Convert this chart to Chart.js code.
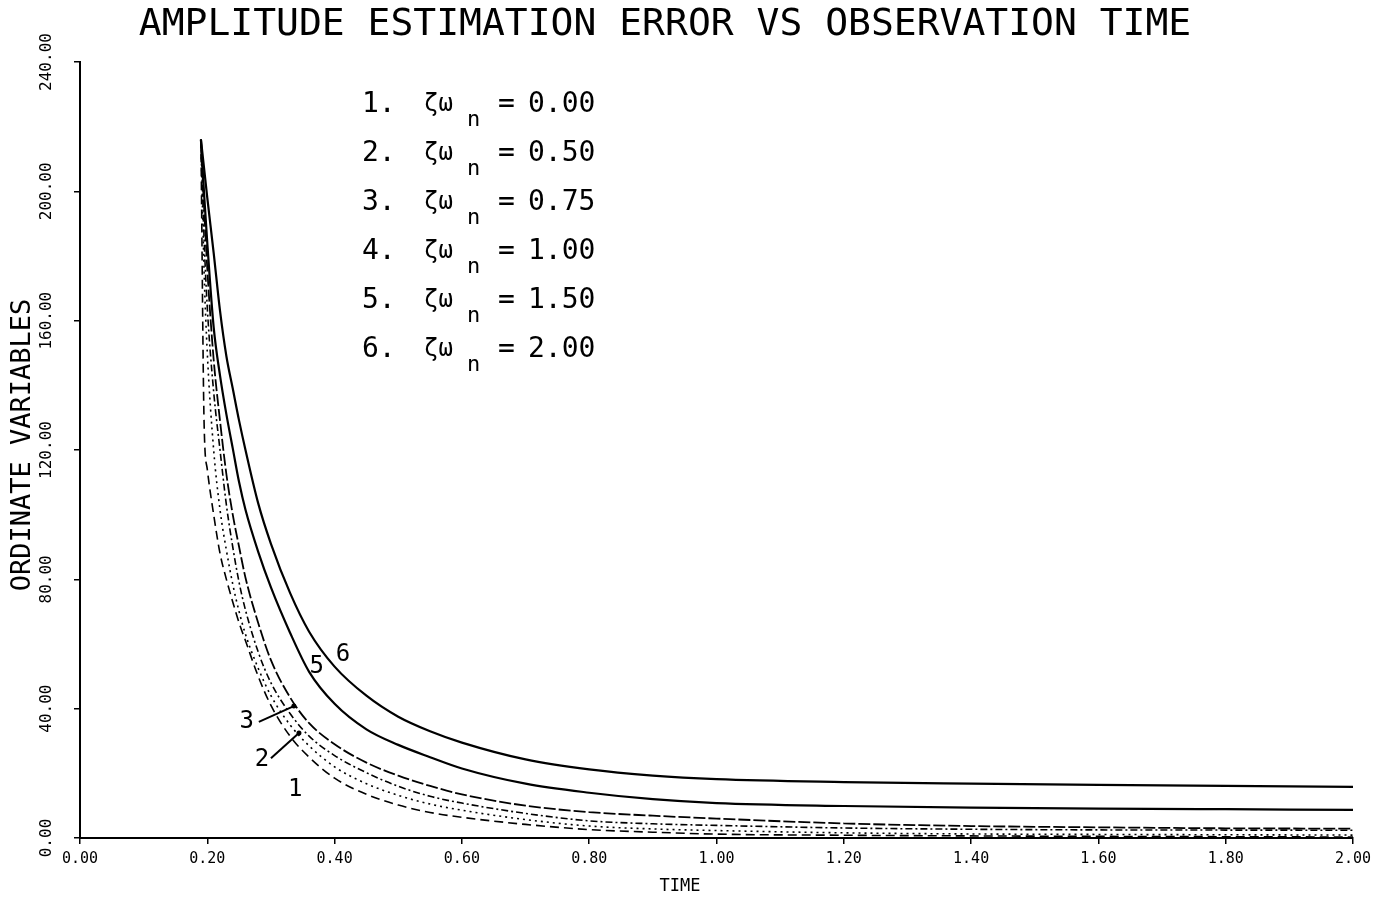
<!DOCTYPE html>
<html lang="en">
<head>
<meta charset="UTF-8">
<title>Amplitude Estimation Error vs Observation Time</title>
<script src="https://cdn.jsdelivr.net/npm/chart.js@4.4.1/dist/chart.umd.min.js"></script>
<style>
  html, body { margin: 0; padding: 0; background: #fff; }
  #wrap { position: relative; width: 1396px; height: 904px; }
</style>
</head>
<body>
<div id="wrap"><canvas id="grafico"></canvas></div>
<script>
// observation time (x) shared by all curves
const tiempo = [0.19, 0.195, 0.20, 0.21, 0.22, 0.23, 0.24, 0.25, 0.26, 0.28, 0.30, 0.33, 0.36, 0.40,
                0.45, 0.50, 0.55, 0.60, 0.70, 0.80, 0.90, 1.00, 1.20, 1.40, 1.60, 1.80, 2.00];

// error for each zeta*omega_n
const curva1 = [216, 128, 114, 100, 88, 80, 73, 66.5, 61, 50, 41, 31.5, 25, 18.5,
                13.5, 10.2, 7.9, 6.4, 4.2, 2.6, 1.8, 1.2, 0.85, 0.65, 0.5, 0.4, 0.3];
const curva2 = [216, 175, 150, 120, 101.5, 89, 78.5, 70, 63, 52.5, 44, 35, 28.5, 22,
                16.8, 13.2, 10.5, 8.6, 5.7, 3.7, 2.8, 2.3, 1.6, 1.25, 1.1, 1.0, 0.9];
const curva3 = [216, 185, 164, 138, 120, 103, 90, 79, 70.5, 57.5, 48, 38.5, 31.5, 25.5,
                20.2, 16, 12.9, 10.8, 7.6, 5.3, 4.4, 3.9, 3.1, 2.7, 2.5, 2.45, 2.4];
const curva4 = [216, 195, 176, 148, 129, 112.5, 100, 90, 80.5, 66.5, 55, 43.5, 35.5, 29,
                23.3, 19.3, 16.1, 13.5, 10.0, 8.0, 6.9, 6.0, 4.5, 3.7, 3.3, 3.0, 2.9];
const curva5 = [216, 199, 184, 158, 143, 131, 120.5, 110, 101.5, 88.5, 77.5, 63.5, 51.4, 41.5,
                33.6, 28.8, 25, 21.5, 16.8, 14.0, 12.0, 10.8, 9.9, 9.4, 9.1, 8.9, 8.7];
const curva6 = [216, 207, 198, 181, 163, 149, 139, 129, 120, 103.5, 91, 75.8, 63.8, 53,
                44, 37.5, 33, 29.5, 24.3, 21.2, 19.3, 18.2, 17.3, 16.8, 16.4, 16.1, 15.8];

const zetaOmega = ['0.00', '0.50', '0.75', '1.00', '1.50', '2.00'];
const xTickLabels = ['0.00', '0.20', '0.40', '0.60', '0.80', '1.00', '1.20', '1.40', '1.60', '1.80', '2.00'];
const yTickLabels = ['0.00', '40.00', '80.00', '120.00', '160.00', '200.00', '240.00'];

const titulo = 'AMPLITUDE ESTIMATION ERROR VS OBSERVATION TIME';
const MONO = '"DejaVu Sans Mono", "Liberation Mono", monospace';

function serie(valores, dash, ancho) {
    return {
        data: tiempo.map((t, i) => ({ x: t, y: valores[i] })),
        borderColor: '#000',
        borderWidth: ancho,
        borderDash: dash,
        pointRadius: 0,
        fill: false,
        cubicInterpolationMode: 'monotone'
    };
}

// texts that the plotter drew around the axes
const textos = {
    id: 'textos',
    afterDraw(chart) {
        const ctx = chart.ctx;
        const sx = chart.scales.x, sy = chart.scales.y;
        ctx.save();
        ctx.fillStyle = '#000';
        ctx.strokeStyle = '#000';

        ctx.font = '38px ' + MONO;
        ctx.textAlign = 'center';
        ctx.textBaseline = 'middle';
        ctx.fillText(titulo, 665, 25);

        // rotated y tick labels
        ctx.font = '16px ' + MONO;
        sy.ticks.forEach((t, i) => {
            ctx.save();
            ctx.translate(47, sy.getPixelForValue(t.value));
            ctx.rotate(-Math.PI / 2);
            ctx.fillText(yTickLabels[i], 0, 0);
            ctx.restore();
        });

        ctx.save();
        ctx.translate(23, 445);
        ctx.rotate(-Math.PI / 2);
        ctx.font = '27px ' + MONO;
        ctx.fillText('ORDINATE VARIABLES', 0, 0);
        ctx.restore();

        ctx.font = '17px ' + MONO;
        ctx.fillText('TIME', 680, 887);

        // legend block
        ctx.textAlign = 'left';
        zetaOmega.forEach((v, i) => {
            const yy = 105 + 49 * i;
            ctx.font = '28px ' + MONO;
            ctx.fillText((i + 1) + '.', 362, yy);
            ctx.font = '24px ' + MONO;
            ctx.fillText('ζω', 424, yy);
            ctx.font = '22px ' + MONO;
            ctx.fillText('n', 467, yy + 15);
            ctx.font = '28px ' + MONO;
            ctx.fillText('=', 498, yy);
            ctx.fillText(v, 528, yy);
        });

        // curve numbers and pointers
        ctx.font = '24px ' + MONO;
        ctx.textAlign = 'center';
        const px = v => sx.getPixelForValue(v), py = v => sy.getPixelForValue(v);
        ctx.fillText('6', px(0.413), py(56.6));
        ctx.fillText('5', px(0.372), py(52.9));
        ctx.fillText('3', px(0.262), py(35.9));
        ctx.fillText('2', px(0.286), py(24.1));
        ctx.fillText('1', px(0.338), py(14.8));
        ctx.lineWidth = 2;
        [[0.281, 35.9, 0.336, 40.8], [0.300, 24.7, 0.344, 32.5]].forEach(a => {
            ctx.beginPath();
            ctx.moveTo(px(a[0]), py(a[1]));
            ctx.lineTo(px(a[2]), py(a[3]));
            ctx.stroke();
            ctx.beginPath();
            ctx.arc(px(a[2]), py(a[3]), 2.5, 0, Math.PI * 2);
            ctx.fill();
        });
        ctx.restore();
    }
};

new Chart(document.getElementById('grafico'), {
    type: 'line',
    data: {
        datasets: [
            serie(curva1, [9, 5], 1.6),
            serie(curva2, [2, 4], 1.6),
            serie(curva3, [7, 3, 2, 3], 1.6),
            serie(curva4, [12, 3], 1.8),
            serie(curva5, [], 2.2),
            serie(curva6, [], 2.2)
        ]
    },
    options: {
        responsive: true,
        maintainAspectRatio: false,
        animation: false,
        layout: { padding: { left: 0, top: 62, right: 43, bottom: 0 } },
        plugins: {
            legend: { display: false },
            tooltip: { enabled: false }
        },
        scales: {
            x: {
                type: 'linear',
                min: 0,
                max: 2,
                border: { color: '#000', width: 2 },
                grid: { drawOnChartArea: false, drawTicks: true, tickLength: 6, color: '#000', lineWidth: 1.5 },
                ticks: {
                    stepSize: 0.2,
                    color: '#000',
                    padding: 6,
                    maxRotation: 0,
                    font: { family: MONO, size: 15 },
                    callback: (v, i) => xTickLabels[i]
                },
                afterFit(scale) { scale.height = 66; }
            },
            y: {
                type: 'linear',
                min: 0,
                max: 240,
                border: { color: '#000', width: 2 },
                grid: { drawOnChartArea: false, drawTicks: true, tickLength: 6, color: '#000', lineWidth: 1.5 },
                ticks: { stepSize: 40, display: false },
                afterFit(scale) { scale.width = 80; }
            }
        }
    },
    plugins: [textos]
});
</script>
</body>
</html>
